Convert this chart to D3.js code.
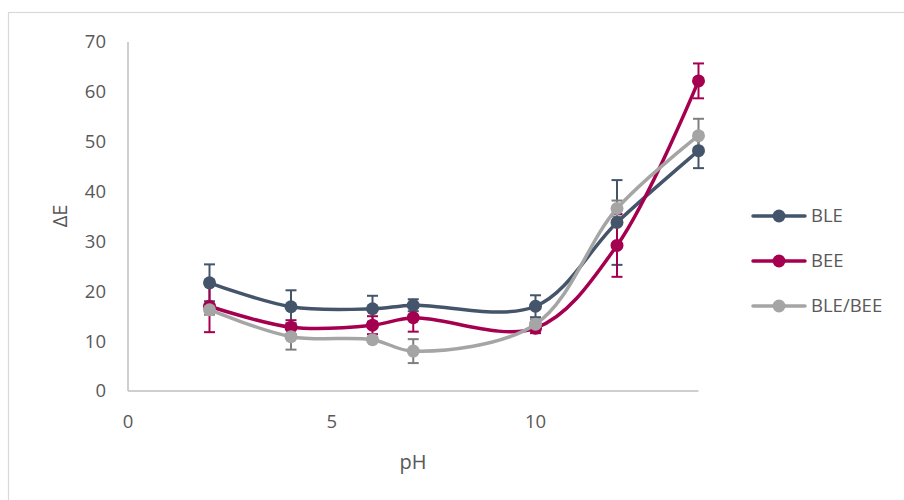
<!DOCTYPE html>
<html>
<head>
<meta charset="utf-8">
<script src="https://cdn.jsdelivr.net/npm/d3@7"></script>
<style>
  html, body { margin: 0; padding: 0; background: #fff; }
  svg { display: block; font-family: "Open Sans", "Liberation Sans", sans-serif; }
</style>
</head>
<body>
<svg id="chart" width="904" height="500"></svg>
<script>
// ---- data ----
const pH = [2, 4, 6, 7, 10, 12, 14];
const seriesNames = ["BLE", "BEE", "BLE/BEE"];
const bleValues = [21.7, 16.9, 16.5, 17.2, 17.0, 33.8, 48.2];
const bleErrors = [3.7, 3.3, 2.6, 1.2, 2.2, 8.5, 3.5];
const beeValues = [17.0, 12.8, 13.2, 14.7, 12.6, 29.2, 62.2];
const beeErrors = [5.2, 1.4, 1.8, 2.8, 1.0, 6.3, 3.5];
const mixValues = [16.3, 10.9, 10.3, 8.0, 13.4, 36.6, 51.2];
const mixErrors = [1.0, 2.6, 0.5, 2.4, 1.0, 1.6, 3.4];
const xTicks = [0, 5, 10];
const yTicks = [0, 10, 20, 30, 40, 50, 60, 70];
const seriesColors = ["#44546a", "#a50050", "#a5a5a5"];
const errorColors = ["#44546a", "#a50050", "#7f7f7f"];

const series = seriesNames.map((name, i) => ({
  name,
  color: seriesColors[i],
  errColor: errorColors[i],
  values: [bleValues, beeValues, mixValues][i],
  errors: [bleErrors, beeErrors, mixErrors][i]
}));

const svg = d3.select("#chart");

// outer chart frame
svg.append("rect").attr("x", 8.5).attr("y", 12.5).attr("width", 940).attr("height", 540)
  .attr("fill", "none").attr("stroke", "#d9d9d9").attr("stroke-width", 1.2);

const x = d3.scaleLinear().domain([0, 14]).range([128, 698.5]);
const y = d3.scaleLinear().domain([0, 70]).range([391, 42]);

const textColor = "#595959";
const axisColor = "#bfbfbf";

// axes lines
svg.append("line").attr("x1", x(0)).attr("x2", x(0)).attr("y1", y(70)).attr("y2", y(0))
  .attr("stroke", axisColor).attr("stroke-width", 1.5);
svg.append("line").attr("x1", x(0)).attr("x2", x(14)).attr("y1", y(0)).attr("y2", y(0))
  .attr("stroke", axisColor).attr("stroke-width", 1.5);

// y tick labels
svg.append("g").selectAll("text").data(yTicks).join("text")
  .attr("x", 106).attr("y", d => y(d)).attr("dy", "0.35em")
  .attr("text-anchor", "end").attr("fill", textColor).attr("font-size", 18.5)
  .text(d => d);

// x tick labels
svg.append("g").selectAll("text").data(xTicks).join("text")
  .attr("x", d => x(d)).attr("y", 422).attr("dy", "0.35em")
  .attr("text-anchor", "middle").attr("fill", textColor).attr("font-size", 18.5)
  .text(d => d);

// axis titles
svg.append("text").attr("x", 413).attr("y", 462).attr("dy", "0.35em")
  .attr("text-anchor", "middle").attr("fill", textColor).attr("font-size", 20).text("pH");
svg.append("text").attr("transform", "translate(60,216) rotate(-90)").attr("dy", "0.35em")
  .attr("text-anchor", "middle").attr("fill", textColor).attr("font-size", 20).text("ΔE");

// error bars (drawn first)
const capW = 5.5;
series.forEach(s => {
  const g = svg.append("g").attr("stroke", s.errColor).attr("stroke-width", 2).attr("fill", "none");
  pH.forEach((p, i) => {
    const v = s.values[i], e = s.errors[i];
    const cx = x(p), y1 = y(v + e), y2 = y(v - e);
    g.append("line").attr("x1", cx).attr("x2", cx).attr("y1", y1).attr("y2", y2);
    g.append("line").attr("x1", cx - capW).attr("x2", cx + capW).attr("y1", y1).attr("y2", y1);
    g.append("line").attr("x1", cx - capW).attr("x2", cx + capW).attr("y1", y2).attr("y2", y2);
  });
});

// smoothed lines + markers
const line = d3.line().x(d => x(d[0])).y(d => y(d[1])).curve(d3.curveCatmullRom.alpha(0.5));
series.forEach(s => {
  const pts = pH.map((p, i) => [p, s.values[i]]);
  svg.append("path").datum(pts).attr("d", line)
    .attr("fill", "none").attr("stroke", s.color).attr("stroke-width", 3.5)
    .attr("stroke-linecap", "round").attr("stroke-linejoin", "round");
  svg.append("g").selectAll("circle").data(pts).join("circle")
    .attr("cx", d => x(d[0])).attr("cy", d => y(d[1])).attr("r", 6.5)
    .attr("fill", s.color);
});

// legend
const legendY = [216, 261, 306];
const lg = svg.append("g");
series.forEach((s, i) => {
  const ly = legendY[i];
  lg.append("line").attr("x1", 753).attr("x2", 805).attr("y1", ly).attr("y2", ly)
    .attr("stroke", s.color).attr("stroke-width", 3.5).attr("stroke-linecap", "round");
  lg.append("circle").attr("cx", 779).attr("cy", ly).attr("r", 6.5).attr("fill", s.color);
  lg.append("text").attr("x", 811).attr("y", ly).attr("dy", "0.35em")
    .attr("fill", textColor).attr("font-size", 18.5).text(s.name);
});
</script>
</body>
</html>
